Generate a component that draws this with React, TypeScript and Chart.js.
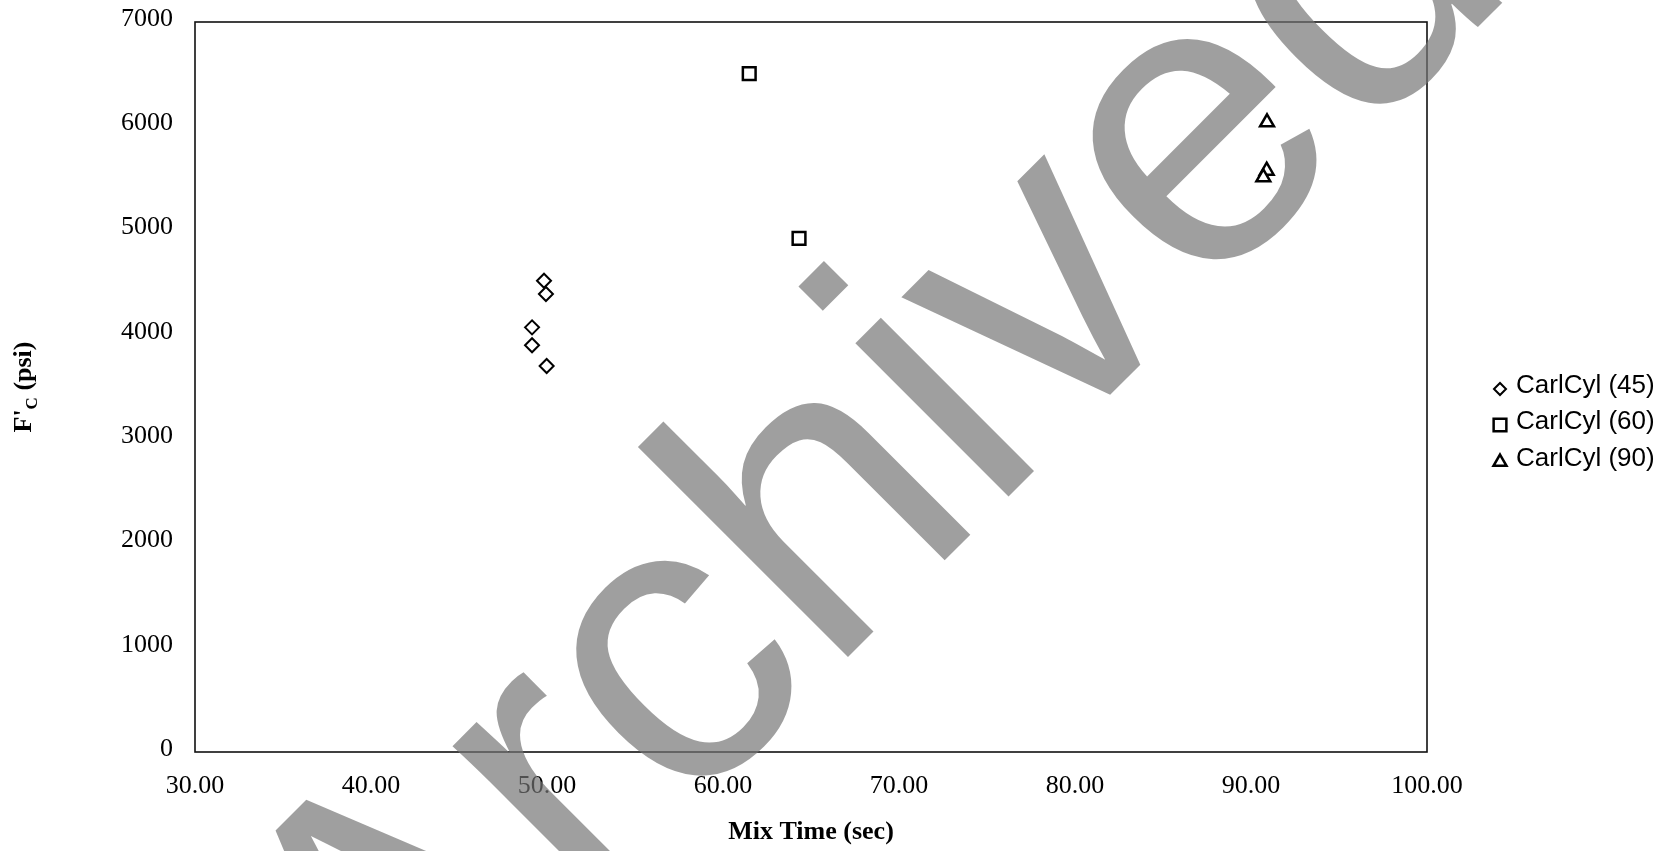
import React, { useEffect, useRef } from 'react';
import { Chart, registerables } from 'chart.js';
import { drawPoint } from 'chart.js/helpers';

Chart.register(...registerables);

const seriesNames = ['CarlCyl (45)', 'CarlCyl (60)', 'CarlCyl (90)'];
const mixTime45 = [49.83, 49.94, 49.15, 49.15, 49.98];
const strength45 = [4519, 4392, 4072, 3900, 3701];
const mixTime60 = [61.49, 64.32];
const strength60 = [6504, 4926];
const mixTime90 = [90.91, 90.89, 90.7];
const strength90 = [6038, 5574, 5511];
const xTickValues = [30, 40, 50, 60, 70, 80, 90, 100];
const yTickValues = [0, 1000, 2000, 3000, 4000, 5000, 6000, 7000];
const xTitle = 'Mix Time (sec)';
const yTitleParts = ["F'", 'C', ' (psi)'];
const watermark = 'Archived';

const W = 1673;
const H = 851;
const SERIF = '"Liberation Serif", "Times New Roman", serif';
const SANS = '"Liberation Sans", Arial, sans-serif';

const pts = (xs: number[], ys: number[]) => xs.map((x, i) => ({ x, y: ys[i] }));

export default function App() {
  const ref = useRef<HTMLCanvasElement | null>(null);
  useEffect(() => {
    document.body.style.margin = '0';
    document.body.style.background = '#ffffff';
    const canvas = ref.current!;
    const markerStyles = [
      { pointStyle: 'rectRot', radius: 7, borderWidth: 2, legendRadius: 6 },
      { pointStyle: 'rect', radius: 9, borderWidth: 2.5, legendRadius: 9 },
      { pointStyle: 'triangle', radius: 8, borderWidth: 2.5, legendRadius: 7.5 },
    ];
    const dataSets = [
      pts(mixTime45, strength45),
      pts(mixTime60, strength60),
      pts(mixTime90, strength90),
    ];

    const framePlugin = {
      id: 'frameAndExtras',
      beforeDraw(chart: any) {
        const c = chart.ctx;
        c.save();
        c.fillStyle = '#ffffff';
        c.fillRect(0, 0, chart.width, chart.height);
        c.restore();
      },
      afterDatasetsDraw(chart: any) {
        const c = chart.ctx;
        const a = chart.chartArea;
        c.save();
        c.strokeStyle = '#111';
        c.lineWidth = 1.6;
        c.strokeRect(a.left, a.top, a.right - a.left, a.bottom - a.top);
        c.restore();
      },
      afterDraw(chart: any) {
        const c = chart.ctx;
        // y-axis title with subscript
        c.save();
        c.translate(31, 387);
        c.rotate(-Math.PI / 2);
        c.fillStyle = '#000';
        c.textBaseline = 'alphabetic';
        c.textAlign = 'left';
        const big = `bold 26px ${SERIF}`;
        const small = `bold 17px ${SERIF}`;
        c.font = big;
        const w0 = c.measureText(yTitleParts[0]).width;
        const w2 = c.measureText(yTitleParts[2]).width;
        c.font = small;
        const w1 = c.measureText(yTitleParts[1]).width;
        let x = -(w0 + w1 + w2) / 2;
        c.font = big;
        c.fillText(yTitleParts[0], x, 0);
        x += w0;
        c.font = small;
        c.fillText(yTitleParts[1], x, 6);
        x += w1;
        c.font = big;
        c.fillText(yTitleParts[2], x, 0);
        c.restore();

        // legend
        const rowsY = [386, 422, 459];
        c.save();
        chart.data.datasets.forEach((ds: any, i: number) => {
          const st = markerStyles[i];
          c.strokeStyle = '#000';
          c.fillStyle = '#fff';
          c.lineWidth = st.borderWidth;
          drawPoint(c, { pointStyle: st.pointStyle, radius: st.legendRadius, borderWidth: st.borderWidth, rotation: 0 } as any, 1500, rowsY[i] + 3);
          c.fillStyle = '#000';
          c.font = `26px ${SANS}`;
          c.textBaseline = 'middle';
          c.textAlign = 'left';
          c.fillText(ds.label, 1516, rowsY[i]);
        });
        c.restore();

        // watermark
        c.save();
        c.translate(957, 548);
        c.rotate(-Math.PI / 4);
        c.font = `410px ${SANS}`;
        c.textAlign = 'center';
        c.textBaseline = 'alphabetic';
        c.fillStyle = 'rgba(116,116,116,0.69)';
        c.fillText(watermark, 0, 0);
        c.restore();
      },
    };

    const chart = new Chart(canvas, {
      type: 'scatter',
      data: {
        datasets: dataSets.map((d, i) => ({
          label: seriesNames[i],
          data: d,
          pointStyle: markerStyles[i].pointStyle as any,
          pointRadius: markerStyles[i].radius,
          pointHoverRadius: markerStyles[i].radius,
          pointBorderWidth: markerStyles[i].borderWidth,
          borderColor: '#000',
          backgroundColor: '#fff',
          showLine: false,
        })),
      },
      options: {
        responsive: false,
        animation: false,
        devicePixelRatio: 1,
        layout: { padding: { left: 0, top: 22, right: 246, bottom: 0 } },
        plugins: {
          legend: { display: false },
          tooltip: { enabled: false },
        },
        scales: {
          x: {
            type: 'linear',
            min: xTickValues[0],
            max: xTickValues[xTickValues.length - 1],
            grid: { display: false, drawTicks: false },
            border: { display: false },
            afterBuildTicks: (s: any) => {
              s.ticks = xTickValues.map((v) => ({ value: v }));
            },
            afterFit: (s: any) => {
              s.height = 99;
              s.paddingLeft = 0;
              s.paddingRight = 0;
            },
            ticks: {
              padding: 19,
              color: '#000',
              maxRotation: 0,
              autoSkip: false,
              font: { family: SERIF, size: 26 },
              callback: (v: any) => Number(v).toFixed(2),
            },
            title: {
              display: true,
              text: xTitle,
              color: '#000',
              font: { family: SERIF, size: 26, weight: 'bold' },
              padding: { top: 0, bottom: 3 },
            },
          },
          y: {
            type: 'linear',
            min: yTickValues[0],
            max: yTickValues[yTickValues.length - 1],
            grid: { display: false, drawTicks: false },
            border: { display: false },
            afterBuildTicks: (s: any) => {
              s.ticks = yTickValues.map((v) => ({ value: v }));
            },
            afterFit: (s: any) => {
              s.width = 195;
              s.paddingTop = 0;
              s.paddingBottom = 0;
            },
            ticks: {
              padding: 22,
              labelOffset: -3,
              color: '#000',
              autoSkip: false,
              font: { family: SERIF, size: 26 },
              callback: (v: any) => String(v),
            },
          },
        },
      },
      plugins: [framePlugin],
    });
    return () => chart.destroy();
  }, []);

  return (
    <div style={{ position: 'absolute', left: 0, top: 0, width: W, height: H }}>
      <canvas ref={ref} width={W} height={H} style={{ width: W, height: H, display: 'block' }} />
    </div>
  );
}
